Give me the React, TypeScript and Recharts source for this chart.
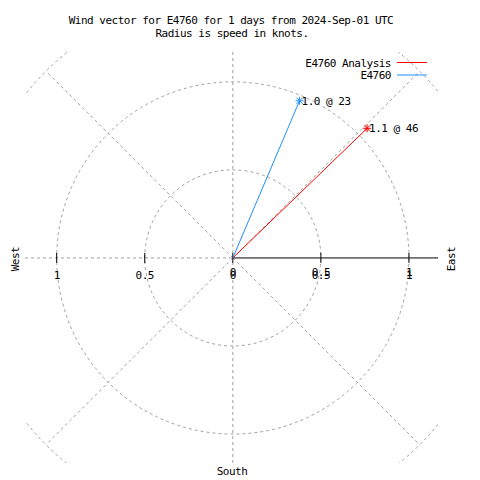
import React from "react";
import { ScatterChart, Scatter, XAxis, YAxis, ReferenceLine, ReferenceDot, Legend } from "recharts";

// wind vectors: speed in knots, direction in degrees (clockwise from north)
const SERIES_NAMES = ["E4760 Analysis", "E4760"];
const SERIES_COLORS = ["#ff0000", "#1e8fff"];
const SPEEDS = [1.06, 0.97];
const DIRECTIONS = [46, 23];
const VECTOR_LABELS = ["1.1 @ 46", "1.0 @ 23"];

// polar grid
const RINGS = [0.5, 1, 1.5];
const SPOKES = [45, 135, 225, 315];
const AXIS_TICKS = [-1, -0.5, 0, 0.5, 1];
const AXIS_TICK_LABELS = ["1", "0.5", "0", "0.5", "1"];

const TITLE = [
  "Wind vector for E4760 for 1 days from 2024-Sep-01 UTC",
  "Radius is speed in knots.",
];

const W = 472;
const H = 472;
const MARGIN = { top: 44, right: 42, bottom: 17, left: 17 };
const X_DOMAIN: [number, number] = [-1.18, 1.165];
const Y_DOMAIN: [number, number] = [-1.165, 1.17];
const PX = (W - MARGIN.left - MARGIN.right) / (X_DOMAIN[1] - X_DOMAIN[0]);

const FONT = "'DejaVu Sans Mono', monospace";
const GRID = "#a0a0a0";
const DASH = "3 3";

const rad = (d: number) => (d * Math.PI) / 180;

const seriesData = SPEEDS.map((s, i) => [
  { x: 0, y: 0 },
  {
    x: s * Math.sin(rad(DIRECTIONS[i])),
    y: s * Math.cos(rad(DIRECTIONS[i])),
    label: VECTOR_LABELS[i],
    end: true,
  },
]);

const starShape = (color: string) => (props: any) => {
  const { cx, cy, payload } = props;
  if (!payload || !payload.end) return <g />;
  return (
    <g>
      <line x1={cx - 4} y1={cy} x2={cx + 4} y2={cy} stroke={color} />
      <line x1={cx} y1={cy - 4} x2={cx} y2={cy + 4} stroke={color} />
      <line x1={cx - 3} y1={cy - 3} x2={cx + 3} y2={cy + 3} stroke={color} />
      <line x1={cx - 3} y1={cy + 3} x2={cx + 3} y2={cy - 3} stroke={color} />
      <text x={cx + 2} y={cy + 4} fontFamily={FONT} fontSize={11} letterSpacing={-0.5} fill="#000">
        {payload.label}
      </text>
    </g>
  );
};

const tickShape = (i: number) => (props: any) => {
  const { cx, cy } = props;
  const t = AXIS_TICKS[i];
  const txt = { fontFamily: FONT, fontSize: 11, letterSpacing: -0.5, fill: "#000", textAnchor: "middle" as const };
  return (
    <g>
      <line x1={cx} y1={cy - 5} x2={cx} y2={cy + 5} stroke="#000" />
      <text x={cx} y={cy + 21} {...txt}>{AXIS_TICK_LABELS[i]}</text>
      {t >= 0 && <text x={cx} y={cy + 18} {...txt}>{AXIS_TICK_LABELS[i]}</text>}
    </g>
  );
};

const renderLegend = () => (
  <svg width={W} height={80}>
    {SERIES_NAMES.map((n, i) => (
      <g key={n}>
        <text x={383} y={59 + 12 * i} textAnchor="end" fontFamily={FONT} fontSize={11} letterSpacing={-0.5} fill="#000">
          {n}
        </text>
        <line x1={389} x2={419} y1={54.5 + 12.5 * i} y2={54.5 + 12.5 * i} stroke={SERIES_COLORS[i]} />
      </g>
    ))}
  </svg>
);

export default function App() {
  const txt = { fontFamily: FONT, fontSize: 11, letterSpacing: -0.5, fill: "#000" };
  return (
    <div style={{ position: "relative", width: W, height: H }}>
      <ScatterChart width={W} height={H} margin={MARGIN}>
        <XAxis type="number" dataKey="x" domain={X_DOMAIN} allowDataOverflow hide />
        <YAxis type="number" dataKey="y" domain={Y_DOMAIN} allowDataOverflow hide />

        {RINGS.map((r) => (
          <ReferenceDot key={`ring-${r}`} x={0} y={0} r={r * PX} fill="none" stroke={GRID}
            strokeDasharray={DASH} ifOverflow="hidden" />
        ))}
        {SPOKES.map((a) => (
          <ReferenceLine key={`spoke-${a}`} stroke={GRID} strokeDasharray={DASH} ifOverflow="hidden"
            segment={[{ x: 0, y: 0 }, { x: 1.5 * Math.sin(rad(a)), y: 1.5 * Math.cos(rad(a)) }]} />
        ))}
        <ReferenceLine x={0} stroke={GRID} strokeDasharray={DASH} />
        <ReferenceLine stroke={GRID} strokeDasharray={DASH}
          segment={[{ x: X_DOMAIN[0], y: 0 }, { x: 0, y: 0 }]} />
        <ReferenceLine stroke="#000"
          segment={[{ x: 0, y: 0 }, { x: X_DOMAIN[1], y: 0 }]} />
        {AXIS_TICKS.map((t, i) => (
          <ReferenceDot key={`tick-${i}`} x={t} y={0} r={0} shape={tickShape(i)} />
        ))}

        {seriesData.map((d, i) => (
          <Scatter key={SERIES_NAMES[i]} name={SERIES_NAMES[i]} data={d} fill={SERIES_COLORS[i]}
            line={{ stroke: SERIES_COLORS[i], strokeWidth: 1 }} shape={starShape(SERIES_COLORS[i])}
            isAnimationActive={false} />
        ))}

        <Legend layout="vertical" align="center" verticalAlign="middle" content={renderLegend}
          wrapperStyle={{ position: "absolute", left: 0, top: 0, width: W, height: 80 }} />
      </ScatterChart>

      <svg width={W} height={H} style={{ position: "absolute", left: 0, top: 0, pointerEvents: "none" }}>
        <text x={223} y={16} textAnchor="middle" {...txt}>{TITLE[0]}</text>
        <text x={224} y={29} textAnchor="middle" {...txt}>{TITLE[1]}</text>
        <text x={11} y={251} textAnchor="middle" transform="rotate(-90 11 251)" {...txt}>West</text>
        <text x={447} y={251} textAnchor="middle" transform="rotate(-90 447 251)" {...txt}>East</text>
        <text x={224} y={467} textAnchor="middle" {...txt}>South</text>
      </svg>
    </div>
  );
}
